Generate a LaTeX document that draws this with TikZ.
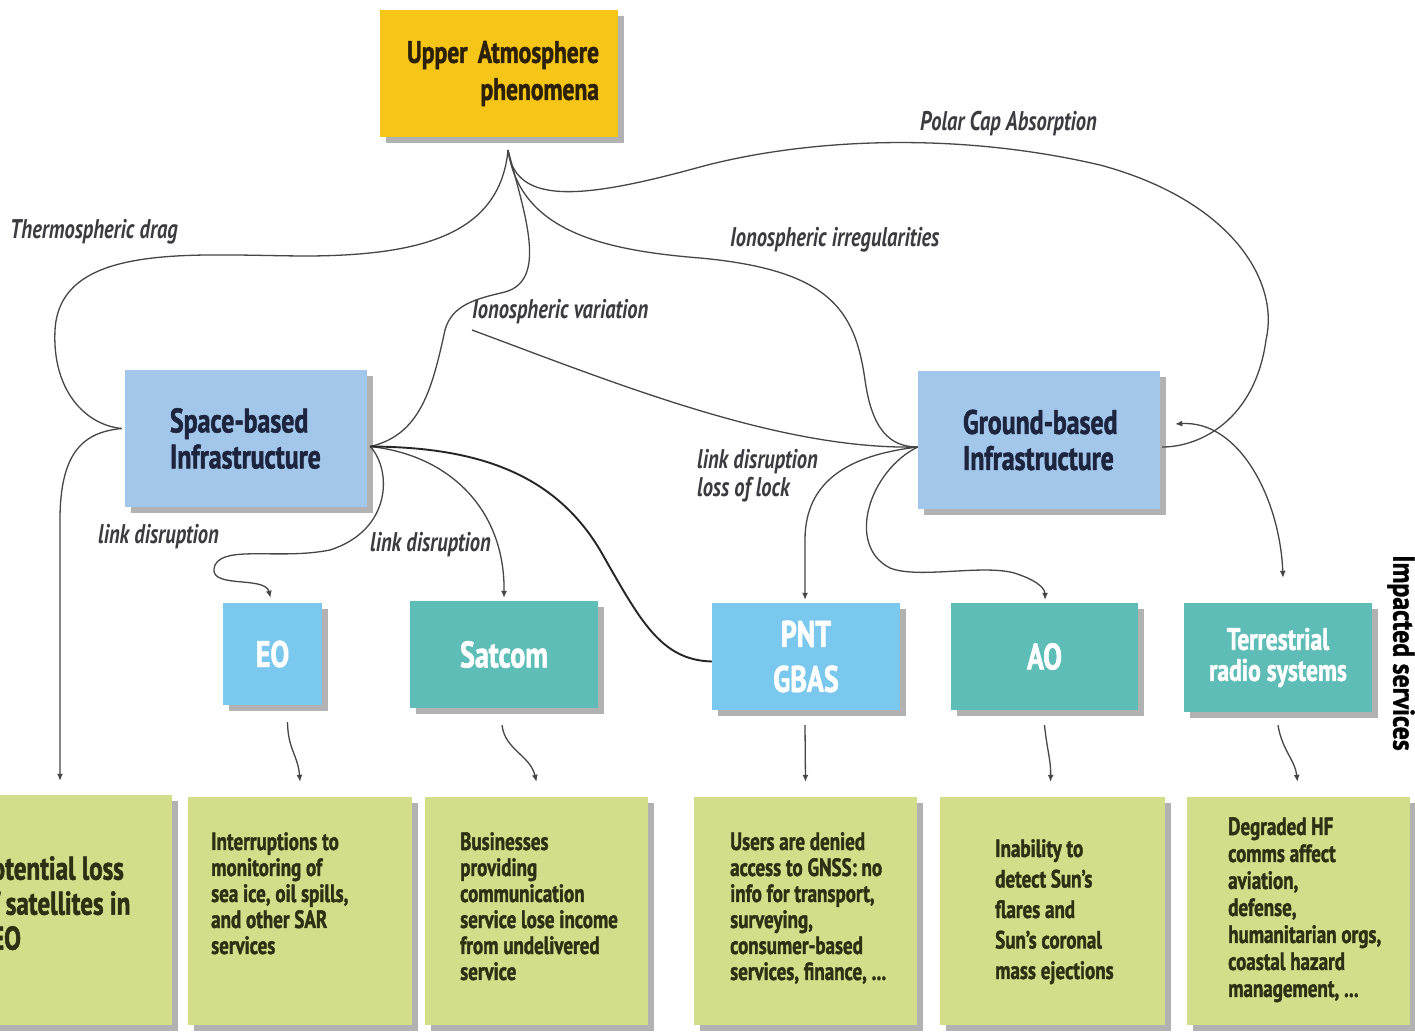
\documentclass[tikz,border=0pt]{standalone}
\usepackage{fontspec}
\setmainfont{PT Sans}[FakeStretch=0.76, BoldFeatures={FakeBold=1.5}]
\newfontfamily\widefont{PT Sans}[FakeStretch=0.86, BoldFeatures={FakeBold=1.2}]
\usetikzlibrary{shadows,calc,arrows.meta}
\definecolor{uacol}{RGB}{245,197,24}
\definecolor{infcol}{RGB}{163,198,235}
\definecolor{skycol}{RGB}{122,200,238}
\definecolor{tealcol}{RGB}{94,189,182}
\definecolor{grncol}{RGB}{211,222,139}
\definecolor{linecol}{RGB}{70,70,70}
\definecolor{labcol}{RGB}{60,60,64}
\definecolor{uatext}{RGB}{45,32,8}
\definecolor{inftext}{RGB}{28,36,62}
\definecolor{grntext}{RGB}{45,48,18}
\begin{document}
\begin{tikzpicture}[x=1pt,y=-1pt,
  box/.style={rectangle, inner sep=0pt, drop shadow={shadow xshift=6pt,shadow yshift=-6pt,fill=black!60,opacity=0.5}},
  uabox/.style={box, fill=uacol, text=uatext, font=\bfseries\fontsize{31}{37}\selectfont},
  infbox/.style={box, fill=infcol, text=inftext, minimum width=242pt, text width=152pt, align=left, font=\bfseries\fontsize{34}{36}\selectfont},
  svcbox/.style={box, text=white, minimum height=107pt, align=center, font=\bfseries\fontsize{37}{45}\selectfont},
  grnbox/.style={box, fill=grncol, minimum width=224pt, minimum height=228pt},
  btext/.style={anchor=north west, inner sep=0pt, align=left, text=grntext, font=\bfseries\fontsize{25}{26}\selectfont},
  lab/.style={anchor=west, inner sep=0pt, text=labcol, font=\bfseries\itshape\fontsize{27}{28}\selectfont},
  conn/.style={draw=linecol, line width=1.3pt},
  arr/.style={-{Latex[length=7pt,width=6pt]}},
  arrtwo/.style={{Latex[length=7pt,width=6pt]}-{Latex[length=7pt,width=6pt]}}
]
\useasboundingbox (0,0) rectangle (1415,1034);
\clip (0,0) rectangle (1415,1034);
\fill[white] (0,0) rectangle (1415,1034);

% main boxes
\node[uabox, minimum width=238pt, minimum height=127pt, text width=200pt, align=right] (ua) at (499,73.5) {Upper Atmosphere\\phenomena};
\node[infbox, minimum height=137pt] (sb) at (246,438.5) {\mbox{Space-based}\\Infrastructure};
\node[infbox, minimum height=138pt] (gb) at (1039,440) {\mbox{Ground-based}\\Infrastructure};

% service boxes
\node[svcbox, fill=skycol, minimum width=99pt, minimum height=102pt] (eo) at (272.5,654) {EO};
\node[svcbox, fill=tealcol, minimum width=188pt] (sat) at (504,654.5) {Satcom};
\node[svcbox, fill=skycol, minimum width=188pt] (pnt) at (806,656.5) {PNT\\GBAS};
\node[svcbox, fill=tealcol, minimum width=187pt] (ao) at (1044.5,656.5) {AO};
\node[svcbox, fill=tealcol, minimum width=188pt, minimum height=109pt, font=\bfseries\fontsize{31}{31}\selectfont] (ter) at (1278,657.5) {Terrestrial\\radio systems};

\node[inner sep=0pt, rotate=-90, font=\widefont\bfseries\fontsize{30}{30}\selectfont, text=black] (imp) at (1401,653) {Impacted services};

% impact boxes
\node[grnbox, minimum height=230pt] (b1) at (60,910) {};
\node[grnbox] (b2) at (300,911) {};
\node[grnbox, minimum width=223pt] (b3) at (536.5,911) {};
\node[grnbox, minimum width=223pt] (b4) at (805.5,911) {};
\node[grnbox, minimum width=225pt] (b5) at (1052.5,911) {};
\node[grnbox, minimum width=223pt] (b6) at (1298.5,911) {};

\node[btext, font=\bfseries\fontsize{33}{35}\selectfont] (t1) at (-22,856) {Potential loss\\of satellites in\\LEO};
\node[btext] (t2) at (211,832) {Interruptions to\\monitoring of\\sea ice, oil spills,\\and other SAR\\services};
\node[btext] (t3) at (460,832) {Businesses\\providing\\communication\\service lose income\\from undelivered\\service};
\node[btext] (t4) at (730,832) {Users are denied\\access to GNSS: no\\info for transport,\\surveying,\\consumer-based\\services, finance, ...};
\node[btext, font=\bfseries\fontsize{25}{30.5}\selectfont] (t5) at (995,839) {Inability to\\detect Sun's\\flares and\\Sun's coronal\\mass ejections};
\node[btext, font=\bfseries\fontsize{25}{27}\selectfont] (t6) at (1228,817) {Degraded HF\\comms affect\\aviation,\\defense,\\humanitarian orgs,\\coastal hazard\\management, ...};

% edge labels
\node[lab] (lthd) at (10,232) {Thermospheric drag};
\node[lab] (lpca) at (920,124) {Polar Cap Absorption};
\node[lab] (lii) at (730,240) {Ionospheric irregularities};
\node[lab] (liv) at (472,312) {Ionospheric variation};
\node[lab] (lld1) at (98,537) {link disruption};
\node[lab] (lld2) at (370,545) {link disruption};
\node[lab, align=left] (lld3) at (697,476) {link disruption\\loss of lock};

% connectors
\coordinate (hub) at (508,150);
\coordinate (ivb) at (472,330);
\coordinate (sbw) at ($(sb.west)+(-3,-10)$);
\coordinate (sbe) at ($(sb.east)+(3,8)$);
\coordinate (gbw) at ($(gb.west)+(0,7)$);
\coordinate (gbe) at ($(gb.east)+(2,7)$);

% Thermospheric drag
\draw[conn] (hub) .. controls (500,235) and (420,255) .. (310,256)
  .. controls (200,256) and (60,240) .. (55,330)
  .. controls (52,390) and (85,425) .. (sbw);
\draw[conn,arr] (sbw) .. controls (85,432) and (60,450) .. (60,520) -- ($(b1.north)+(0,-14)$);

% Ionospheric variation
\draw[conn] (hub) .. controls (525,215) and (548,280) .. (505,292)
  .. controls (475,299) and (452,305) .. (445,330)
  .. controls (432,390) and (420,435) .. (sbe);
\draw[conn] (ivb) .. controls (620,385) and (780,450) .. (gbw);

% Ionospheric irregularities
\draw[conn] (hub) .. controls (520,230) and (600,250) .. (700,258)
  .. controls (830,270) and (855,310) .. (865,380)
  .. controls (872,430) and (890,447) .. (gbw);

% Polar cap absorption
\draw[conn] (hub) .. controls (515,205) and (580,200) .. (700,167)
  .. controls (800,140) and (950,130) .. (1100,165)
  .. controls (1230,200) and (1280,280) .. (1266,340)
  .. controls (1255,420) and (1200,447) .. (gbe);

% Ground-based to services
\draw[conn,arr] (gbw) .. controls (850,455) and (805,480) .. (805,540) -- ($(pnt.north)+(-1,-3)$);
\draw[conn,arr] (gbw) .. controls (870,470) and (845,545) .. (890,568)
  .. controls (920,580) and (990,562) .. (1020,575)
  .. controls (1040,582) and (1045,590) .. ($(ao.north)+(0.5,-3)$);
\draw[conn,arrtwo] ($(gb.east)+(15,-16)$) .. controls (1240,420) and (1280,500) .. ($(ter.north)+(5,-25)$);

% Space-based to services
\draw[conn,arr] (sbe) .. controls (392,470) and (392,530) .. (330,550)
  .. controls (280,560) and (225,545) .. (215,565)
  .. controls (205,590) and (265,575) .. ($(eo.north)+(-2,-5)$);
\draw[conn,arr] (sbe) .. controls (450,455) and (505,510) .. ($(sat.north)+(0,-3)$);
\draw[conn, line width=1.9pt, draw=black!85] (sbe) .. controls (480,447) and (555,475) .. (600,550)
  .. controls (640,620) and (660,660) .. ($(pnt.west)+(0,5)$);

% services to impacts
\draw[conn,arr] ($(eo.south)+(15,17)$) .. controls (288,750) and (298,755) .. ($(b2.north)+(0,-15)$);
\draw[conn,arr] ($(sat.south)+(-2,17)$) .. controls (505,750) and (530,755) .. ($(b3.north)+(0,-15)$);
\draw[conn,arr] ($(pnt.south)+(-1,15)$) -- ($(b4.north)+(0,-15)$);
\draw[conn,arr] ($(ao.south)+(0,15)$) .. controls (1047,750) and (1051,760) .. ($(b5.north)+(-2,-15)$);
\draw[conn,arr] ($(ter.south)+(0,13)$) .. controls (1282,750) and (1295,760) .. ($(b6.north)+(-1,-15)$);
\end{tikzpicture}
\end{document}
